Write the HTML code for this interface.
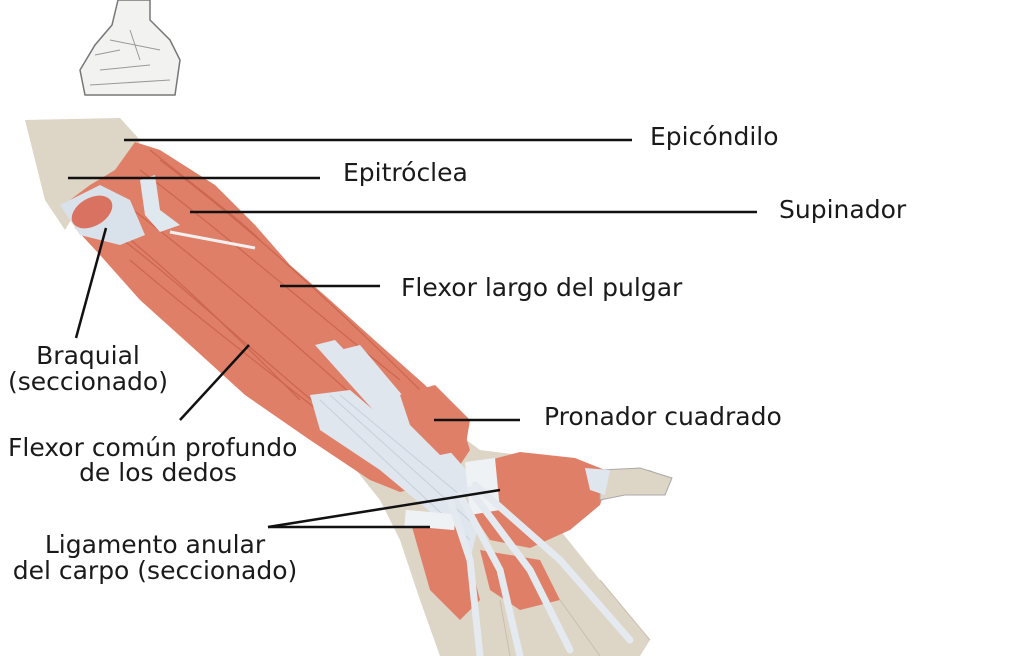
<!DOCTYPE html>
<html><head><meta charset="utf-8"><style>
html,body{margin:0;padding:0;background:#fff;}
svg{display:block}
text{font-family:"DejaVu Sans","Liberation Sans",sans-serif;font-size:25px;fill:#1a1a1a}
</style></head><body>
<svg width="1024" height="656" viewBox="0 0 1024 656" xmlns="http://www.w3.org/2000/svg">
<path d="M118,0 L150,0 L150,20 L170,40 L180,60 L175,95 L85,95 L80,70 L95,45 L112,25 Z" fill="#f2f2f0" stroke="#777" stroke-width="1.5"/>
<path d="M95,55 L120,50 M100,70 L150,65 M90,85 L170,80 M130,30 L140,60 M110,40 L160,50" stroke="#999" stroke-width="1"/>
<path d="M25,120 L120,118 L140,140 L130,165 L110,180 L80,205 L65,230 L45,200 L35,160 Z" fill="#ddd5c6"/>
<path d="M300,330 L390,370 L440,420 L480,450 L520,455 L600,470 L650,470 L672,480 L660,495 L610,495 L560,530 L600,580 L650,640 L640,656 L440,656 L420,600 L400,540 L380,500 L340,450 Z" fill="#ddd5c6"/>
<path d="M135,142 L160,150 L215,185 L255,225 L290,265 L330,300 L380,345 L425,385 L462,425 L470,450 L450,480 L400,492 L370,480 L310,440 L245,395 L190,345 L140,300 L100,255 L75,228 L70,200 L90,185 L115,170 Z" fill="#e07f68"/>
<g stroke="#c9604a" stroke-width="1.3" fill="none" opacity="0.8">
<path d="M120,200 C200,260 280,330 380,420"/>
<path d="M110,230 C190,290 260,360 360,440"/>
<path d="M140,170 C220,230 300,300 400,380"/>
<path d="M160,160 C240,220 320,290 430,400"/>
<path d="M130,260 C200,320 280,380 330,420"/>
<path d="M150,150 C200,190 240,220 260,240"/>
<path d="M100,215 C170,270 230,330 300,400"/>
</g>
<path d="M60,205 L100,185 L130,200 L145,235 L120,245 L80,235 Z" fill="#d9e1ea"/>
<ellipse cx="92" cy="212" rx="22" ry="14" fill="#d97260" transform="rotate(-30 92 212)"/>
<path d="M140,180 L155,175 L160,210 L180,225 L160,232 L145,215 Z" fill="#dfe7ef"/>
<path d="M170,232 L255,248" stroke="#f0f0f0" stroke-width="3"/>
<g fill="#dfe6ee">
<path d="M315,345 L335,340 L420,430 L470,490 L455,500 L400,440 Z"/>
<path d="M310,395 L350,390 L420,450 L480,520 L470,560 L440,520 L380,470 L320,430 Z"/>
<path d="M340,350 L360,345 L440,440 L510,520 L495,525 L420,450 Z"/>
</g>
<g stroke="#c6d0dc" stroke-width="1" fill="none">
<path d="M320,400 L470,540"/><path d="M330,395 L480,530"/><path d="M340,395 L490,520"/>
</g>
<path d="M400,395 L435,385 L470,420 L465,450 L440,455 L410,425 Z" fill="#e07f68"/>
<path d="M470,465 L520,452 L575,458 L610,472 L600,505 L570,530 L530,548 L490,540 L470,510 Z" fill="#e07f68"/>
<path d="M600,470 L640,468 L672,478 L665,495 L625,495 L600,500 Z" fill="#ddd5c6" stroke="#aaa" stroke-width="1"/>
<path d="M585,468 L610,470 L605,495 L590,490 Z" fill="#dfe6ee"/>
<path d="M410,520 L450,515 L470,560 L480,600 L460,620 L430,590 Z" fill="#e07f68"/>
<path d="M480,550 L540,560 L560,600 L520,610 L490,590 Z" fill="#e07f68"/>
<rect x="405" y="512" width="50" height="16" fill="#eef2f5" transform="rotate(5 430 520)"/>
<path d="M465,462 L495,458 L500,510 L470,515 Z" fill="#eef2f5"/>
<g stroke="#e4eaf0" stroke-width="7" fill="none" stroke-linecap="round">
<path d="M450,500 L470,560 L480,656"/>
<path d="M460,495 L500,570 L520,656"/>
<path d="M470,490 L530,570 L570,650"/>
<path d="M475,485 L560,560 L630,640"/>
</g>
<g stroke="#c8bfae" stroke-width="1" fill="none">
<path d="M600,580 L650,640"/><path d="M560,600 L600,656"/><path d="M500,600 L510,656"/>
</g>
<g stroke="#111" stroke-width="2.5" fill="none">
<path d="M124,140 L632,140"/>
<path d="M68,178 L320,178"/>
<path d="M190,212 L757,212"/>
<path d="M280,286 L380,286"/>
<path d="M106,228 L76,338"/>
<path d="M249,345 L180,420"/>
<path d="M434,420 L520,420"/>
<path d="M268,527 L500,490"/>
<path d="M268,527 L430,527"/>
</g>
<text x="650" y="145">Epicóndilo</text>
<text x="343" y="181">Epitróclea</text>
<text x="779" y="218">Supinador</text>
<text x="401" y="296">Flexor largo del pulgar</text>
<text x="88" y="364" text-anchor="middle">Braquial</text>
<text x="88" y="390" text-anchor="middle">(seccionado)</text>
<text x="8" y="456">Flexor común profundo</text>
<text x="158" y="481" text-anchor="middle">de los dedos</text>
<text x="544" y="425">Pronador cuadrado</text>
<text x="155" y="553" text-anchor="middle">Ligamento anular</text>
<text x="155" y="579" text-anchor="middle">del carpo (seccionado)</text>
</svg>
</body></html>
